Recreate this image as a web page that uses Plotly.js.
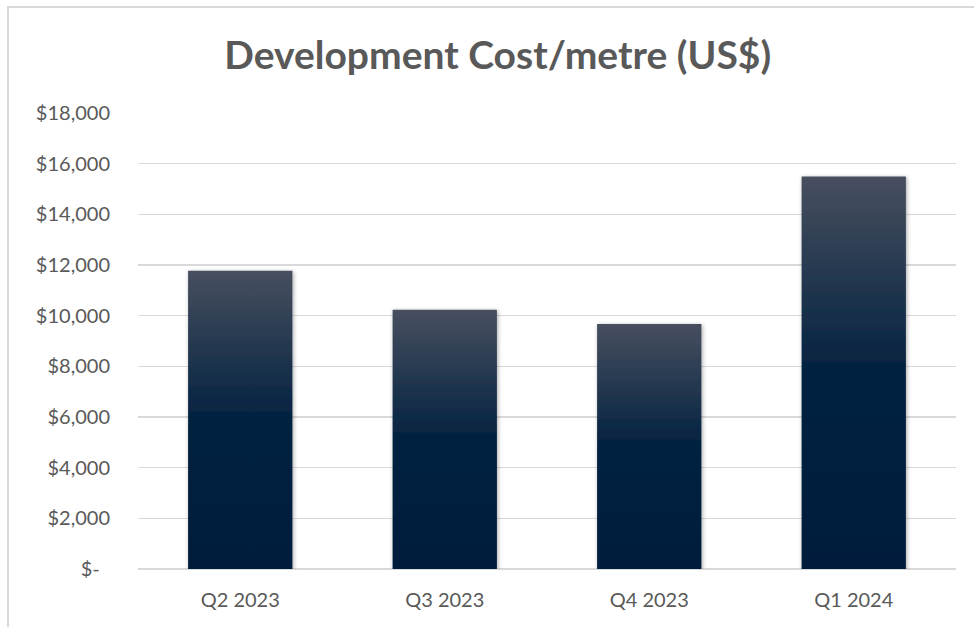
<!DOCTYPE html>
<html>
<head>
<meta charset="utf-8">
<script src="https://cdn.plot.ly/plotly-3.0.1.min.js"></script>
<style>
  html, body { margin: 0; padding: 0; background: #ffffff; }
  #frame { position: absolute; left: 7px; top: 6px; width: 980px; height: 640px;
           border-left: 2px solid #d9d9d9; border-top: 2px solid #d9d9d9; }
  #chart { position: absolute; left: 0; top: 0; width: 974px; height: 627px; }
</style>
</head>
<body>
<div id="frame"></div>
<div id="chart"></div>
<script>
const categories = ["Q2 2023", "Q3 2023", "Q4 2023", "Q1 2024"];
const costPerMetre = [11770, 10230, 9670, 15490];
const tickValues = [0, 2000, 4000, 6000, 8000, 10000, 12000, 14000, 16000, 18000];
const tickLabels = ["$-\u00a0\u00a0", "$2,000", "$4,000", "$6,000", "$8,000", "$10,000", "$12,000", "$14,000", "$16,000", "$18,000"];

const FONT = "Lato, 'Open Sans', sans-serif";

const trace = {
  type: "bar",
  x: categories,
  y: costPerMetre,
  width: 0.51,
  marker: { color: "#0b2342", line: { width: 0 } },
  hoverinfo: "x+y"
};

const layout = {
  width: 974,
  height: 627,
  margin: { l: 138, r: 18, t: 113, b: 58 },
  paper_bgcolor: "rgba(0,0,0,0)",
  plot_bgcolor: "rgba(0,0,0,0)",
  showlegend: false,
  title: {
    text: "<b>Development Cost/metre (US$)</b>",
    font: { family: FONT, size: 39, color: "#595959" },
    xref: "container", x: 0.511, xanchor: "center",
    yref: "container", y: 1 - 55 / 627, yanchor: "middle"
  },
  xaxis: {
    type: "category",
    showgrid: false,
    showline: false,
    ticks: "",
    ticklabelstandoff: 17,
    tickfont: { family: FONT, size: 20, color: "#595959" }
  },
  yaxis: {
    range: [0, 18000],
    tickvals: tickValues,
    ticktext: tickLabels,
    showgrid: true,
    gridcolor: "#d9d9d9",
    gridwidth: 1.5,
    zeroline: true,
    zerolinecolor: "#d9d9d9",
    zerolinewidth: 1.5,
    showline: false,
    ticks: "",
    ticklabelstandoff: 27,
    tickfont: { family: FONT, size: 20, color: "#595959" }
  }
};

Plotly.newPlot("chart", [trace], layout, { displayModeBar: false, staticPlot: true }).then(function (gd) {
  const svgNS = "http://www.w3.org/2000/svg";
  const svg = gd.querySelector("svg.main-svg");
  let defs = svg.querySelector("defs");
  if (!defs) { defs = document.createElementNS(svgNS, "defs"); svg.insertBefore(defs, svg.firstChild); }

  const grad = document.createElementNS(svgNS, "linearGradient");
  grad.setAttribute("id", "barGrad");
  grad.setAttribute("x1", "0"); grad.setAttribute("y1", "0");
  grad.setAttribute("x2", "0"); grad.setAttribute("y2", "1");
  [["0", "#474f5f"], ["0.52", "#00203f"], ["1", "#001f3e"]].forEach(function (s) {
    const st = document.createElementNS(svgNS, "stop");
    st.setAttribute("offset", s[0]);
    st.setAttribute("stop-color", s[1]);
    grad.appendChild(st);
  });
  defs.appendChild(grad);

  const filt = document.createElementNS(svgNS, "filter");
  filt.setAttribute("id", "barShadow");
  filt.setAttribute("x", "-20%"); filt.setAttribute("y", "-10%");
  filt.setAttribute("width", "140%"); filt.setAttribute("height", "120%");
  const ds = document.createElementNS(svgNS, "feDropShadow");
  ds.setAttribute("dx", "1"); ds.setAttribute("dy", "1");
  ds.setAttribute("stdDeviation", "2.2");
  ds.setAttribute("flood-color", "#000000");
  ds.setAttribute("flood-opacity", "0.35");
  filt.appendChild(ds);
  defs.appendChild(filt);

  gd.querySelectorAll(".barlayer .point path").forEach(function (p) {
    p.style.fill = "url(#barGrad)";
    p.setAttribute("filter", "url(#barShadow)");
  });
});
</script>
</body>
</html>
